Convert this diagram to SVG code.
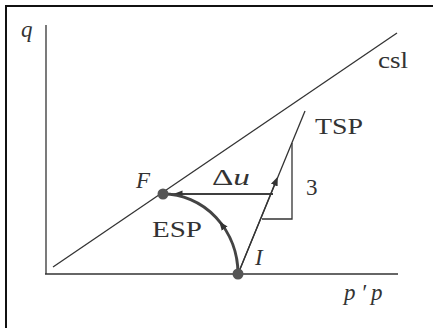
<svg xmlns="http://www.w3.org/2000/svg" width="433" height="328" viewBox="0 0 433 328">
<defs>
<style>
.ln{stroke:#333;stroke-width:1.3;fill:none}
.t{font-family:"Liberation Serif",serif;fill:#333;font-size:23px}
.i{font-style:italic}
.dot{fill:#555}
</style>
<marker id="ah" viewBox="0 0 10 10" refX="5" refY="5" markerWidth="9" markerHeight="9" orient="auto" markerUnits="userSpaceOnUse">
<path d="M0,1 L10,5 L0,9 Z" fill="#333"/>
</marker>
</defs>
<rect x="0" y="0" width="433" height="328" fill="#fff"/>
<rect x="6" y="6" width="440" height="340" fill="none" stroke="#111" stroke-width="2"/>
<g id="axes">
<line class="ln" x1="46" y1="25" x2="46" y2="274"/>
<line class="ln" x1="45" y1="274" x2="398" y2="274"/>
<text class="t i" x="21" y="37">q</text>
<text class="t i" y="300" font-size="26"><tspan x="344">p</tspan><tspan x="361">′</tspan><tspan x="371">p</tspan></text>
</g>
<g id="csl">
<line class="ln" x1="53" y1="267" x2="397" y2="33"/>
<text class="t" x="378" y="68" textLength="30" lengthAdjust="spacingAndGlyphs">csl</text>
</g>
<g id="connectors">
<line class="ln" x1="238" y1="274" x2="305" y2="111"/>
<line class="ln" x1="238" y1="274" x2="276" y2="181" marker-end="url(#ah)"/>
<polyline class="ln" points="292,143 292,219 262,219"/>
<line class="ln" x1="273" y1="194" x2="163" y2="194"/>
<line class="ln" x1="273" y1="194" x2="178" y2="194" marker-end="url(#ah)"/>
<path d="M238,274 A75,80 0 0 0 163,194" fill="none" stroke="#444" stroke-width="3"/>
<path d="M238,274 A75,80 0 0 0 222,225" fill="none" stroke="none" marker-end="url(#ah)"/>
</g>
<g id="TSP"><text class="t" x="315" y="134" textLength="48" lengthAdjust="spacingAndGlyphs">TSP</text></g>
<g id="three"><text class="t" x="306" y="195">3</text></g>
<g id="du"><text class="t" x="212" y="185" textLength="38" lengthAdjust="spacingAndGlyphs">Δ<tspan class="i">u</tspan></text></g>
<g id="F"><circle class="dot" cx="163" cy="194" r="5.5"/><text class="t i" x="136" y="188">F</text></g>
<g id="ESP"><text class="t" x="152" y="237" textLength="50" lengthAdjust="spacingAndGlyphs">ESP</text></g>
<g id="I"><circle class="dot" cx="238" cy="274" r="5.5"/><text class="t i" x="255" y="265">I</text></g>
</svg>
